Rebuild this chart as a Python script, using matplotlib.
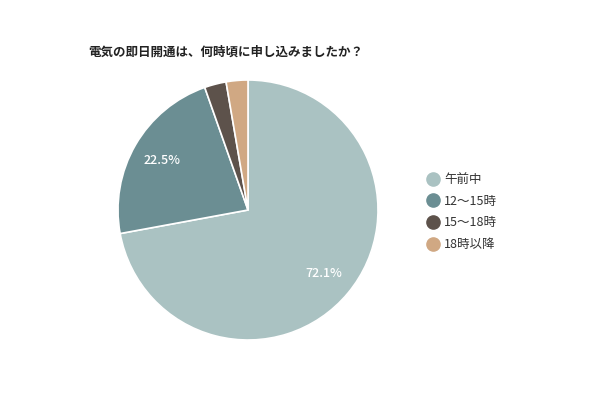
import matplotlib.pyplot as plt
from matplotlib.lines import Line2D

plt.rcParams['font.family'] = ['Noto Sans CJK JP', 'DejaVu Sans']

# data
labels = ['午前中', '12～15時', '15～18時', '18時以降']
values = [72.1, 22.5, 2.7, 2.7]
colors = ['#aac2c2', '#6b8e93', '#5d524b', '#d0a883']
title = '電気の即日開通は、何時頃に申し込みましたか？'

fig = plt.figure(figsize=(6, 4), dpi=100)
fig.patch.set_facecolor('white')

# pie axes: center ~ (248, 210) px, radius ~130 px
ax = fig.add_axes([118 / 600, 60 / 400, 260 / 600, 260 / 400])
wedges, texts, autotexts = ax.pie(
    values, colors=colors, startangle=90, counterclock=False,
    autopct=lambda p: f'{p:.1f}%' if p > 5 else '',
    pctdistance=0.76, radius=1.0,
    wedgeprops=dict(edgecolor='white', linewidth=1.2),
    textprops=dict(color='white', fontsize=9, fontweight='medium'))
ax.set_xlim(-1, 1)
ax.set_ylim(-1, 1)
ax.set_aspect('equal')
ax.axis('off')

fig.text(88 / 600, 1 - 52 / 400, title, fontsize=9, fontweight='bold',
         va='center', ha='left', color='#222222')

# legend
handles = [Line2D([], [], marker='o', linestyle='', markersize=9.5,
                  markerfacecolor=c, markeredgecolor=c) for c in colors]
fig.legend(handles, labels, loc='upper left', bbox_to_anchor=(420 / 600, 1 - 168 / 400),
           frameon=False, fontsize=9, handletextpad=0.35, labelspacing=0.7,
           borderaxespad=0, handlelength=1.2, labelcolor='#333333')

fig.savefig('out.png', dpi=100, facecolor='white')
